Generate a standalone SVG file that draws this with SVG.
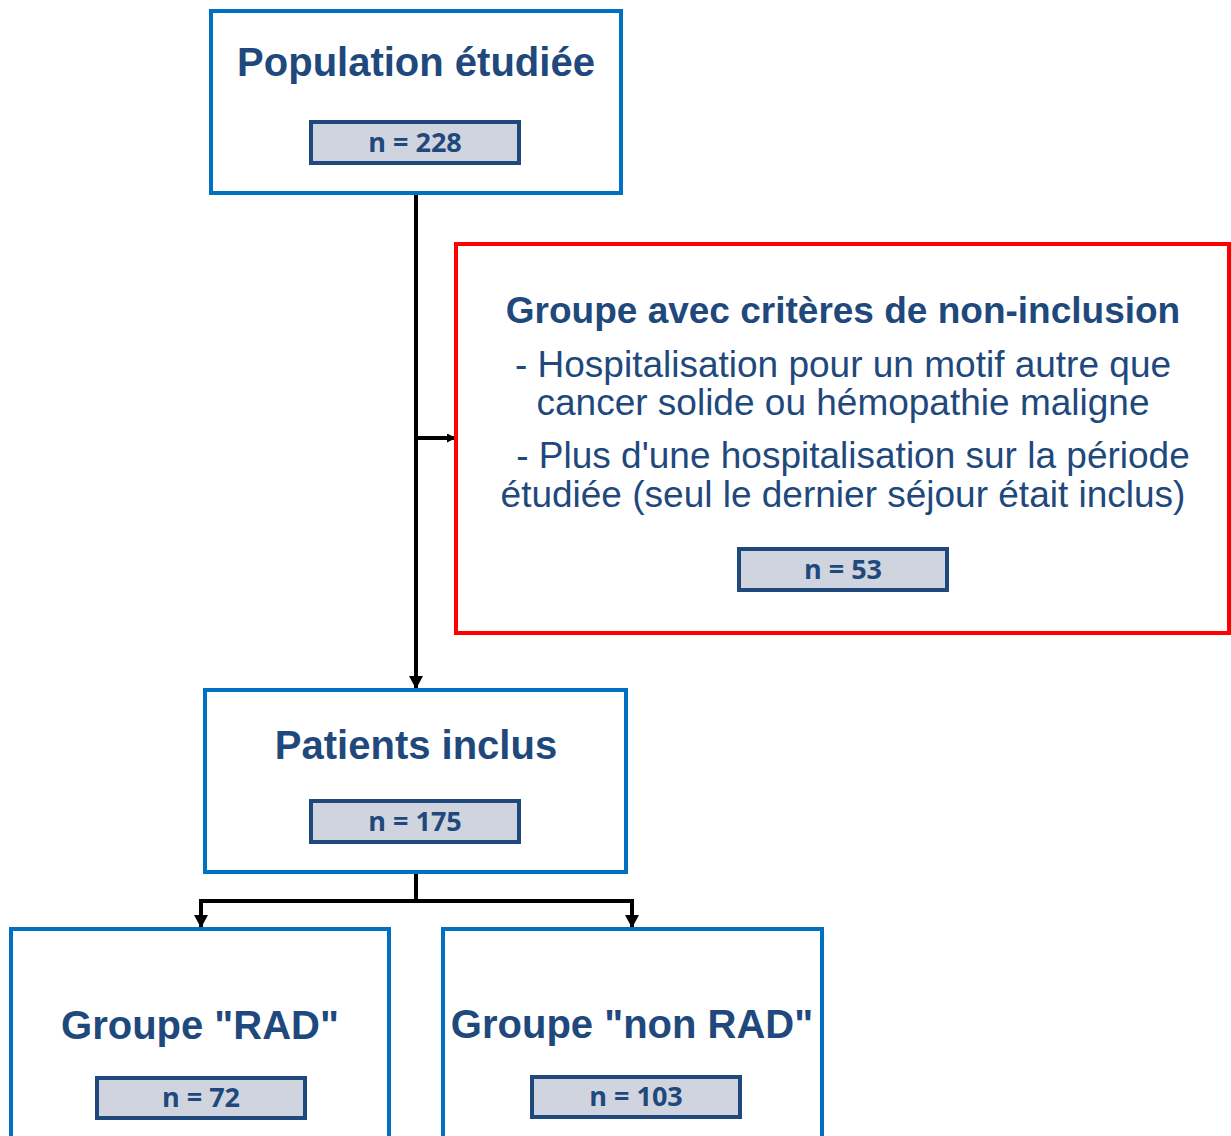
<svg xmlns="http://www.w3.org/2000/svg" width="1231" height="1136" viewBox="0 0 1231 1136">
<style>
.box{fill:#fff;stroke:#0070C0;stroke-width:4}
.red{fill:#fff;stroke:#FF0000;stroke-width:4}
.nbox{fill:#D0D4DE;stroke:#1F497D;stroke-width:4}
.title{font-family:"Liberation Sans",Arial,sans-serif;font-weight:bold;fill:#1F497D;text-anchor:middle}
.body{font-family:"Liberation Sans",Arial,sans-serif;fill:#1F497D;font-size:37px;text-anchor:middle}
.n{font-family:"Open Sans","Liberation Sans",sans-serif;font-weight:bold;fill:#1F497D;font-size:27px;text-anchor:middle}
.line{fill:none;stroke:#000;stroke-width:4}
</style>
<defs>
<marker id="arr" markerWidth="14" markerHeight="14" refX="12" refY="7" orient="auto" markerUnits="userSpaceOnUse" viewBox="0 0 14 14">
<path d="M0,0 L13,7 L0,14 Z" fill="#000"/>
</marker>
<marker id="arrs" markerWidth="9" markerHeight="9" refX="8" refY="4.5" orient="auto" markerUnits="userSpaceOnUse" viewBox="0 0 9 9">
<path d="M0,0 L9,4.5 L0,9 Z" fill="#000"/>
</marker>
</defs>
<g id="connectors">
<path class="line" d="M416,194 V688" marker-end="url(#arr)"/>
<path class="line" d="M416,438 H455" marker-end="url(#arrs)"/>
<path class="line" d="M416,873 V901"/>
<path class="line" d="M199,901 H634"/>
<path class="line" d="M201,899 V927" marker-end="url(#arr)"/>
<path class="line" d="M632,899 V927" marker-end="url(#arr)"/>
</g>
<g id="population">
<rect class="box" x="211" y="11" width="410" height="182"/>
<text class="title" x="416" y="76" font-size="40">Population étudiée</text>
<rect class="nbox" x="311" y="122" width="208" height="41"/>
<text class="n" x="415" y="152">n = 228</text>
</g>
<g id="exclusion">
<rect class="red" x="456" y="244" width="773" height="389"/>
<text class="title" x="843" y="323" font-size="37">Groupe avec critères de non-inclusion</text>
<text class="body" x="843" y="377">- Hospitalisation pour un motif autre que</text>
<text class="body" x="843" y="415">cancer solide ou hémopathie maligne</text>
<text class="body" x="853" y="468">- Plus d'une hospitalisation sur la période</text>
<text class="body" x="843" y="507">étudiée (seul le dernier séjour était inclus)</text>
<rect class="nbox" x="739" y="549" width="208" height="41"/>
<text class="n" x="843" y="579">n = 53</text>
</g>
<g id="inclus">
<rect class="box" x="205" y="690" width="421" height="182"/>
<text class="title" x="416" y="759" font-size="40">Patients inclus</text>
<rect class="nbox" x="311" y="801" width="208" height="41"/>
<text class="n" x="415" y="831">n = 175</text>
</g>
<g id="rad">
<rect class="box" x="11" y="929" width="378" height="212"/>
<text class="title" x="200" y="1039" font-size="40">Groupe "RAD"</text>
<rect class="nbox" x="97" y="1078" width="208" height="40"/>
<text class="n" x="201" y="1107">n = 72</text>
</g>
<g id="nonrad">
<rect class="box" x="443" y="929" width="379" height="212"/>
<text class="title" x="632" y="1038" font-size="40">Groupe "non RAD"</text>
<rect class="nbox" x="532" y="1077" width="208" height="40"/>
<text class="n" x="636" y="1106">n = 103</text>
</g>
</svg>
